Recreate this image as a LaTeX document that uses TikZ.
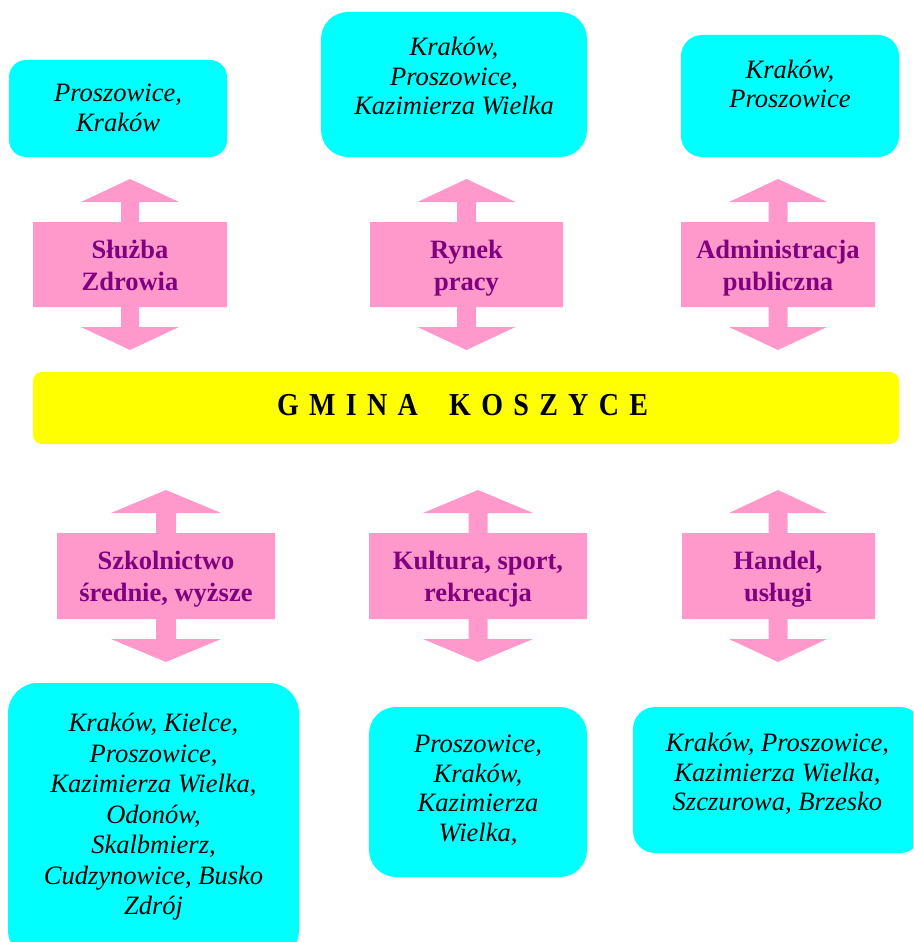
\documentclass[tikz,border=0pt]{standalone}
\usepackage{fontspec}
\setmainfont{Liberation Serif}
\usepackage{graphicx}
\definecolor{placecyan}{HTML}{00FFFF}
\definecolor{arrowpink}{HTML}{FF99CC}
\definecolor{baryellow}{HTML}{FFFF00}
\definecolor{themepurple}{HTML}{800080}
\tikzset{
  placebox/.style={fill=placecyan},
  placetext/.style={font=\fontsize{26.5}{29.5}\selectfont\itshape, align=center, inner sep=0pt},
  themetext/.style={font=\fontsize{26.5}{32}\selectfont\bfseries, text=themepurple, align=center, inner sep=0pt},
  arrowfill/.style={fill=arrowpink},
}
% #1 cx, #2 head half width, #3 shaft half width, #4 rect left, #5 rect right, #6 rect top, #7 rect bottom
\newcommand{\pinkarrow}[7]{%
  \fill[arrowfill] (#1,#6-43) -- (#1+#2,#6-20) -- (#1+#3,#6-20) -- (#1+#3,#6) -- (#5,#6) -- (#5,#7)
    -- (#1+#3,#7) -- (#1+#3,#7+20) -- (#1+#2,#7+20) -- (#1,#7+43) -- (#1-#2,#7+20) -- (#1-#3,#7+20)
    -- (#1-#3,#7) -- (#4,#7) -- (#4,#6) -- (#1-#3,#6) -- (#1-#3,#6-20) -- (#1-#2,#6-20) -- cycle;}
\newcommand{\gsp}{\hspace{10.3pt}}
\begin{document}
\begin{tikzpicture}[x=1pt,y=-1pt]
\useasboundingbox (0,0) rectangle (913,942);
\clip (0,0) rectangle (913,942);

% top place boxes
\fill[placebox, rounded corners=17pt] (9,60) rectangle (227,157);
\fill[placebox, rounded corners=27pt] (321,12) rectangle (587,157);
\fill[placebox, rounded corners=21pt] (681,35) rectangle (899,157);
\node[placetext] (t1) at (118,108) {Proszowice,\\Kraków};
\node[placetext] (t2) at (454,76) {Kraków,\\Proszowice,\\Kazimierza Wielka};
\node[placetext] (t3) at (790,84) {Kraków,\\Proszowice};

% top arrows
\pinkarrow{130}{49}{9}{33}{227}{222}{307}
\pinkarrow{466.5}{49}{9.5}{370}{563}{222}{307}
\pinkarrow{778}{49}{9.5}{681}{875}{222}{307}
\node[themetext] (a1) at (130,265) {Służba\\Zdrowia};
\node[themetext] (a2) at (466.5,268) {Rynek\\pracy};
\node[themetext] (a3) at (778,268) {Administracja\\publiczna};

% central bar
\fill[baryellow, rounded corners=9pt] (33,372) rectangle (899,444);
\node[inner sep=0pt, font=\fontsize{28}{30}\selectfont\bfseries] (gmina) at (462.5,405)
  {\scalebox{1}[1.14]{G\gsp M\gsp I\gsp N\gsp A\hspace{31.5pt}K\gsp O\gsp S\gsp Z\gsp Y\gsp C\gsp E}};

% bottom arrows
\pinkarrow{166}{55}{10}{57}{275}{533}{619}
\pinkarrow{478}{55}{9.5}{369}{587}{533}{619}
\pinkarrow{778}{49}{9.5}{682}{875}{533}{619}
\node[themetext] (a4) at (166,579) {Szkolnictwo\\średnie, wyższe};
\node[themetext] (a5) at (478,579) {Kultura, sport,\\rekreacja};
\node[themetext] (a6) at (778,579) {Handel,\\usługi};

% bottom place boxes
\fill[placebox, rounded corners=30pt] (8,683) rectangle (299,960);
\fill[placebox, rounded corners=27pt] (369,707) rectangle (587,877);
\fill[placebox, rounded corners=22pt] (633,707) rectangle (922,853);
\node[placetext, font=\fontsize{26.5}{30.5}\selectfont\itshape] (t4) at (153.5,817) {Kraków, Kielce,\\Proszowice,\\Kazimierza Wielka,\\Odonów,\\Skalbmierz,\\Cudzynowice, Busko\\Zdrój};
\node[placetext] (t5) at (478,790.5) {Proszowice,\\Kraków,\\Kazimierza\\Wielka,};
\node[placetext] (t6) at (777.5,774) {Kraków, Proszowice,\\Kazimierza Wielka,\\Szczurowa, Brzesko};
\end{tikzpicture}
\end{document}
